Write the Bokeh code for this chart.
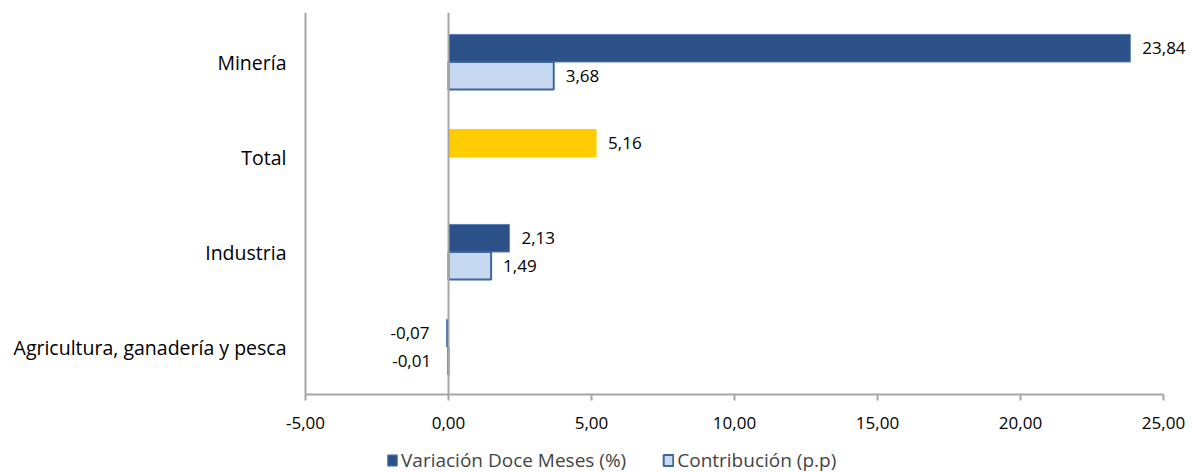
from bokeh.plotting import figure
from bokeh.models import (ColumnDataSource, Range1d, FixedTicker, Legend,
                          LegendItem, LabelSet, LinearAxis)
from bokeh.core.properties import value
from bokeh.embed import file_html
from bokeh.resources import INLINE

# ---- data ----
categories = ["Agricultura, ganadería y pesca", "Industria", "Total", "Minería"]
variacion = [-0.07, 2.13, 5.16, 23.84]
contribucion = [-0.01, 1.49, None, 3.68]
x_tick_values = [-5, 0, 5, 10, 15, 20, 25]
x_tick_labels = ["-5,00", "0,00", "5,00", "10,00", "15,00", "20,00", "25,00"]
series_names = ["Variación Doce Meses (%)", "Contribución (p.p)"]

DARK = "#2B5188"
LIGHT = "#C6D9F1"
YELLOW = "#FFCC00"
GREY = "#A6A6A6"
FONT = "Open Sans"
FS_NUM = "17px"
FS_CAT = "19.5px"
FS_LEG = "19px"

def fmt(v):
    return ("%.2f" % v).replace(".", ",")

off = 0.145
h = 0.29

dark_src = ColumnDataSource(dict(
    y=[i + off for i in range(len(categories))],
    right=variacion,
    color=[YELLOW if c == "Total" else DARK for c in categories],
    line=[YELLOW if c == "Total" else "#5B7FB5" for c in categories],
    label=[fmt(v) for v in variacion],
))
light_idx = [i for i, v in enumerate(contribucion) if v is not None]
light_src = ColumnDataSource(dict(
    y=[i - off for i in light_idx],
    right=[contribucion[i] for i in light_idx],
    label=[fmt(contribucion[i]) for i in light_idx],
))

W, H = 1194, 472
LEFT, TOP = 305, 14
px_x = 858 / 30.0          # pixels per x unit (axis -5..25 spans 858 px)
px_y = 95.0                # pixels per category
x_min, x_max = x_tick_values[0], x_tick_values[-1]
x_start = x_min - LEFT / px_x
x_end = x_min + (W - LEFT) / px_x
y_top = len(categories) - 0.5
y_bot = y_top - (H - TOP) / px_y

p = figure(width=W, height=H, x_range=Range1d(x_start, x_end),
           y_range=Range1d(y_bot, y_top + 2 / px_y),
           output_backend="svg", toolbar_location=None,
           x_axis_location=None, y_axis_location=None,
           min_border_left=0, min_border_right=0, min_border_top=TOP - 2,
           min_border_bottom=0)
p.outline_line_color = None
p.xgrid.visible = False
p.ygrid.visible = False

r_dark = p.hbar(y="y", left=0, right="right", height=h, source=dark_src,
                fill_color="color", line_color="line", line_width=1)
r_light = p.hbar(y="y", left=0, right="right", height=h, source=light_src,
                 fill_color=LIGHT, line_color="#3F679E", line_width=2)

# zero line (vertical axis crossing at 0)
p.segment(x0=[0], y0=[-0.5], x1=[0], y1=[y_top + 2 / px_y],
          line_color=GREY, line_width=2)

# data labels
def add_labels(src):
    d = src.data
    n = len(d["y"])
    pos = [i for i in range(n) if d["right"][i] >= 0]
    neg = [i for i in range(n) if d["right"][i] < 0]
    pos_src = ColumnDataSource(dict(y=[d["y"][i] for i in pos],
                                    x=[d["right"][i] for i in pos],
                                    t=[d["label"][i] for i in pos]))
    neg_src = ColumnDataSource(dict(y=[d["y"][i] for i in neg],
                                    x=[d["right"][i] for i in neg],
                                    t=[d["label"][i] for i in neg]))
    p.add_layout(LabelSet(x="x", y="y", text="t", source=pos_src, x_offset=12,
                          text_align="left", text_baseline="middle",
                          text_font=value(FONT), text_font_size=value(FS_NUM),
                          text_color="black"))
    p.add_layout(LabelSet(x="x", y="y", text="t", source=neg_src, x_offset=-17,
                          text_align="right", text_baseline="middle",
                          text_font=value(FONT), text_font_size=value(FS_NUM),
                          text_color="black"))

add_labels(dark_src)
add_labels(light_src)

# x axis drawn at the bottom of the category area
xa = LinearAxis(fixed_location=-0.5, bounds=(x_min, x_max))
xa.ticker = FixedTicker(ticks=x_tick_values)
xa.major_label_overrides = {v: l for v, l in zip(x_tick_values, x_tick_labels)}
xa.axis_line_color = GREY
xa.axis_line_width = 2
xa.major_tick_line_color = GREY
xa.major_tick_line_width = 2
xa.major_tick_out = 6
xa.major_tick_in = 0
xa.minor_tick_line_color = None
xa.major_label_standoff = 16
xa.major_label_text_font = FONT
xa.major_label_text_font_size = FS_NUM
xa.major_label_text_color = "black"
p.add_layout(xa, "below")

# category axis at x = -5
ya = LinearAxis(fixed_location=x_min, bounds=(-0.5, y_top + 2 / px_y))
ya.ticker = FixedTicker(ticks=list(range(len(categories))))
ya.major_label_overrides = {i: c for i, c in enumerate(categories)}
ya.axis_line_color = GREY
ya.axis_line_width = 2
ya.major_tick_line_color = None
ya.minor_tick_line_color = None
ya.major_tick_out = 0
ya.major_tick_in = 0
ya.major_label_standoff = 19
ya.major_label_text_font = FONT
ya.major_label_text_font_size = FS_CAT
ya.major_label_text_color = "black"
p.add_layout(ya, "left")

legend = Legend(items=[LegendItem(label=series_names[0], renderers=[r_dark], index=0),
                       LegendItem(label=series_names[1], renderers=[r_light], index=0)],
                orientation="horizontal", location=(386, -1),
                border_line_color=None, background_fill_alpha=0,
                label_text_font=FONT, label_text_font_size=FS_LEG,
                label_height=16, glyph_width=12, glyph_height=14,
                label_standoff=3, spacing=36, padding=0, margin=0)
p.add_layout(legend, "center")

open("out.html", "w").write(file_html(p, INLINE))
